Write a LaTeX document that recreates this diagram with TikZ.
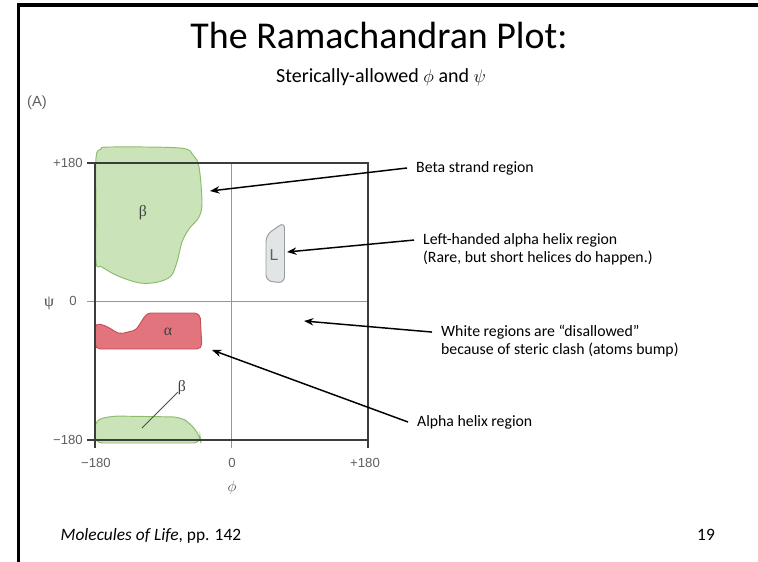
\documentclass[tikz,border=0pt]{standalone}
\usepackage{fontspec}
\setmainfont{Carlito}
\newfontfamily\figfont{Liberation Sans}
\newfontfamily\greekfont{Liberation Serif}
\usetikzlibrary{arrows.meta}

\definecolor{betagreen}{RGB}{203,227,184}
\definecolor{betaedge}{RGB}{138,188,108}
\definecolor{alphared}{RGB}{226,116,126}
\definecolor{alphaedge}{RGB}{198,78,90}
\definecolor{lgrey}{RGB}{226,229,229}
\definecolor{ledge}{RGB}{150,155,155}
\definecolor{axisgrey}{RGB}{60,60,60}
\definecolor{gridgrey}{RGB}{150,150,150}
\definecolor{tickgrey}{RGB}{95,95,95}

\begin{document}
\begin{tikzpicture}[x=0.95pt, y=-0.95pt,
    callout/.style={anchor=west, align=left, inner xsep=8.5pt, font=\fontsize{15}{17.2}\selectfont},
    pointer/.style={-{Stealth[length=9pt,width=7pt]}, line width=1.4pt},
    ticklab/.style={text=tickgrey, font=\figfont\fontsize{12.5}{14}\selectfont, inner sep=0pt},
    greeklab/.style={text=black!75, font=\greekfont\fontsize{15}{17}\selectfont, inner sep=0pt},
    betareg/.style={fill=betagreen, draw=betaedge, line width=0.9pt},
    alphareg/.style={fill=alphared, draw=alphaedge, line width=0.9pt},
    lreg/.style={fill=lgrey, draw=ledge, line width=0.9pt},
    axisline/.style={draw=axisgrey, line width=1.9pt},
    gridline/.style={draw=gridgrey, line width=1pt}]

    \useasboundingbox (0,0) rectangle (758,561);
    % slide frame
    \draw[line width=3pt] (18.3,570) -- (18.3,5) -- (770,5);

    \node[font=\fontsize{36}{40}\selectfont, anchor=base] (title) at (379,48) {The Ramachandran Plot:};
    \node[font=\fontsize{19}{23}\selectfont, anchor=base] (subtitle) at (381,82) {Sterically-allowed $\phi$ and $\psi$};
    \node[ticklab, font=\figfont\fontsize{14}{16}\selectfont, anchor=base west] (panel) at (27,106) {(A)};

    % allowed regions
    \draw[betareg] plot[smooth cycle, tension=0.55] coordinates {(96,158) (101,149) (110,147) (180,148) (193,155) (199,167) (202,202) (199,217) (189,229) (182,242) (177,262) (171,276) (158,282) (140,283) (118,276) (102,267) (96,262) (96,210)};
    \draw[alphareg, rounded corners=5pt] (95,349) -- (95,323) .. controls (112,327) and (116,335) .. (128,332) .. controls (140,329) and (143,313) .. (156,313) -- (200,313) -- (202,349) -- cycle;
    \draw[betareg, rounded corners=7pt] (95,443) -- (95,420) -- (112,416) -- (180,417) -- (190,423) -- (200,436) -- (201,443) -- cycle;
    \draw[lreg, rounded corners=6pt] (284.5,222) -- (284.5,283) -- (266,281) -- (266,235) -- cycle;

    % axes
    \draw[gridline] (231.5,163) -- (231.5,448);
    \draw[gridline] (87,301.5) -- (368,301.5);
    \draw[axisline] (95,163) rectangle (368,440);
    \foreach \y in {163,440}
        \draw[axisline, line width=1.2pt] (87,\y) -- (95,\y);
    \foreach \x in {95,368}
        \draw[axisline, line width=1.2pt] (\x,440) -- (\x,448);

    \node[greeklab] (betaup) at (143,213) {β};
    \node[greeklab] (alphalab) at (168,332) {α};
    \node[greeklab] (betalow) at (182,388) {β};
    \node[ticklab, font=\figfont\fontsize{15}{17}\selectfont] (llab) at (274,255) {L};
    \coordinate (betalowpt) at (142,428);
    \draw[line width=0.7pt, black!70] (betalow) -- (betalowpt);

    \node[ticklab, anchor=east] (yhi) at (83,163) {+180};
    \node[ticklab, anchor=east] (ymid) at (77,301) {0};
    \node[greeklab] (psilab) at (49,303) {ψ};
    \node[ticklab, anchor=east] (ylo) at (83,440) {−180};
    \node[ticklab] (xlo) at (96,463) {−180};
    \node[ticklab] (xmid) at (232,463) {0};
    \node[ticklab] (xhi) at (365,463) {+180};
    \node[text=black!70, font=\fontsize{15}{17}\selectfont, inner sep=0pt] (philab) at (232,488) {$\phi$};

    % callouts
    \coordinate (betatip) at (210,191);
    \coordinate (ltip) at (287,252);
    \coordinate (whitetip) at (304,321);
    \coordinate (alphatip) at (212,350);
    \node[callout] (betanote) at (407,168) {Beta strand region};
    \node[callout] (lnote) at (414,249) {Left-handed alpha helix region\\(Rare, but short helices do happen.)};
    \node[callout] (whitenote) at (432,341) {White regions are “disallowed”\\because of steric clash (atoms bump)};
    \node[callout] (alphanote) at (408,422) {Alpha helix region};
    \draw[pointer] (betanote.west) -- (betatip);
    \draw[pointer] ([yshift=8.5pt]lnote.west) -- (ltip);
    \draw[pointer] ([yshift=8.5pt]whitenote.west) -- (whitetip);
    \draw[pointer] (alphanote.west) -- (alphatip);

    \node[anchor=base west, font=\fontsize{16.5}{18}\selectfont] (source) at (57,540) {\textit{Molecules of Life}, pp. 142};
    \node[anchor=base, font=\fontsize{16.5}{18}\selectfont] (pagenum) at (706,540) {19};
\end{tikzpicture}
\end{document}
